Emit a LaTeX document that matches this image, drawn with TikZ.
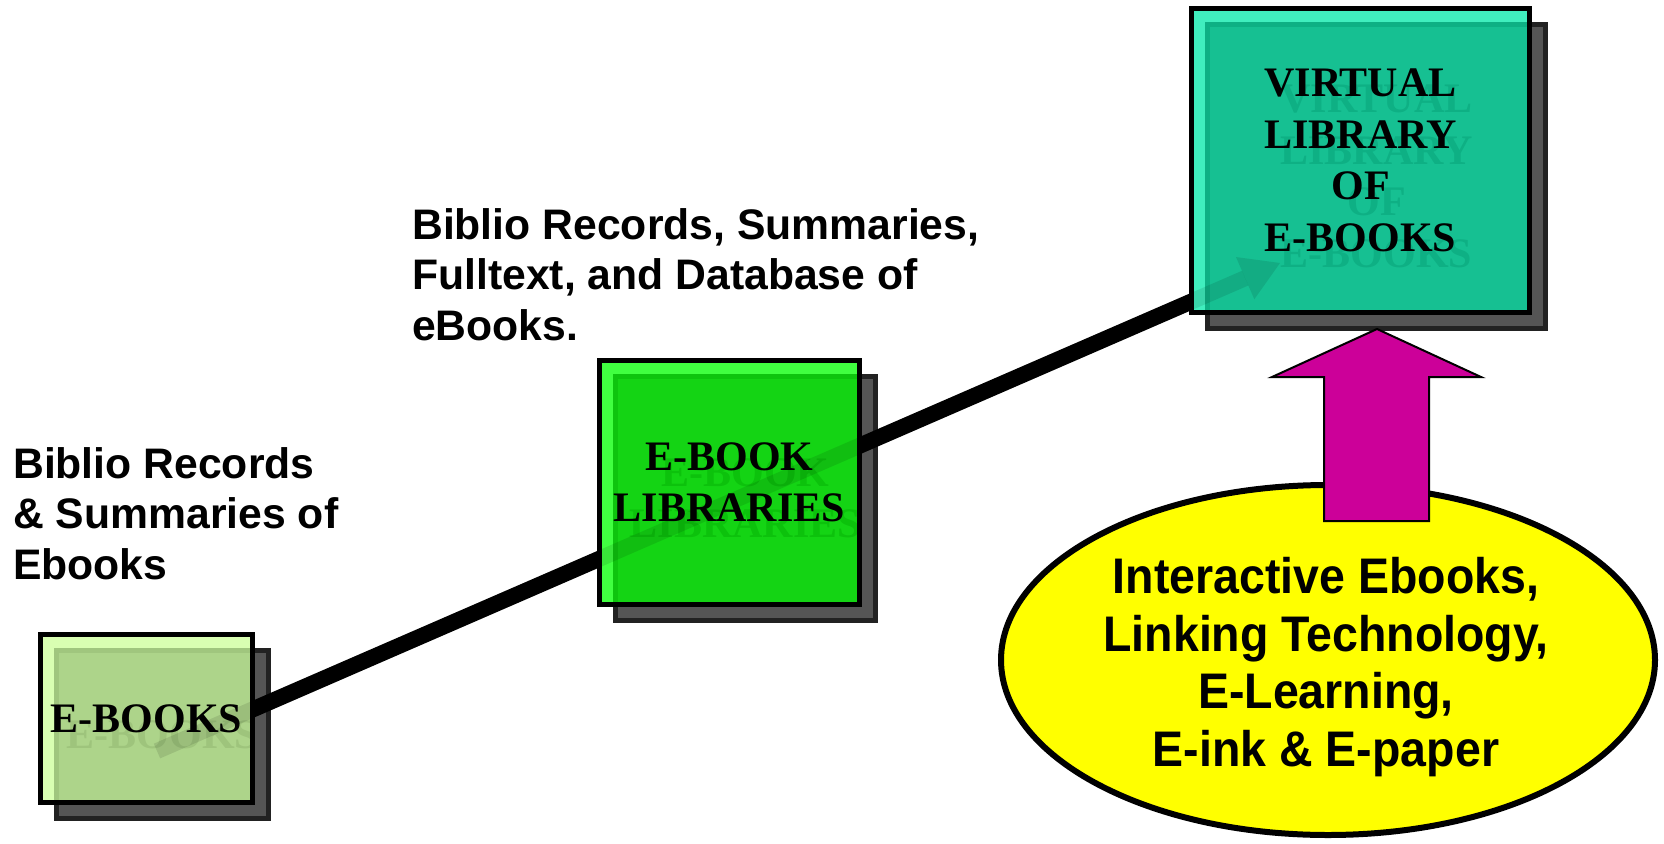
\documentclass[tikz,border=0pt]{standalone}
\usepackage{fontspec}
\setmainfont{Liberation Serif}
\newfontfamily\arialfont{Liberation Sans}
\newfontfamily\narrowfont{Liberation Sans}[FakeStretch=0.93]
\usetikzlibrary{shapes.geometric,arrows.meta}
\definecolor{shfill}{RGB}{85,85,85}
\definecolor{shdraw}{RGB}{34,34,34}
\definecolor{lightA}{RGB}{217,255,178}
\definecolor{overA}{RGB}{173,212,138}
\definecolor{ovbA}{RGB}{160,198,126}
\definecolor{ghostA}{RGB}{158,196,124}
\definecolor{lightB}{RGB}{64,255,64}
\definecolor{overB}{RGB}{20,212,20}
\definecolor{ovbB}{RGB}{14,196,14}
\definecolor{ghostB}{RGB}{12,194,12}
\definecolor{lightC}{RGB}{64,238,190}
\definecolor{overC}{RGB}{22,192,146}
\definecolor{ovbC}{RGB}{14,176,132}
\definecolor{ghostC}{RGB}{14,176,132}
\definecolor{magentaA}{RGB}{204,0,153}
\definecolor{yellowA}{RGB}{255,255,0}
\tikzset{
  shadowsty/.style={rectangle, fill=shfill, draw=shdraw, line width=4.5pt, inner sep=0pt, outer sep=0pt},
  fillsty/.style={rectangle, fill=#1, inner sep=0pt, outer sep=0pt},
  oversty/.style={rectangle, line width=4.5pt, inner sep=0pt, outer sep=0pt},
  boxfont/.style={font=\bfseries\fontsize{42}{51.5}\selectfont, align=center},
  frame/.style={rectangle, draw=black, line width=5pt, inner sep=0pt, outer sep=0pt, boxfont},
  ghost/.style={inner sep=0pt, boxfont, text=#1},
  sidetext/.style={font=\arialfont\bfseries\fontsize{42.7}{50.5}\selectfont, align=left, anchor=north west, inner sep=0pt},
  techtext/.style={font=\narrowfont\bfseries\fontsize{50}{57.7}\selectfont, align=center, inner sep=0pt},
  conn/.style={line width=16pt, -{Triangle[length=38pt,width=46pt,line width=0pt]}}
}
\begin{document}
\begin{tikzpicture}[x=1pt,y=-1pt]
\useasboundingbox (0,0) rectangle (1664,843);
% shadows
\node[shadowsty, minimum width=212pt, minimum height=168pt] (ebooksS) at (162.5,734.5) {};
\node[shadowsty, minimum width=260pt, minimum height=244pt] (libS) at (745.5,498.5) {};
\node[shadowsty, minimum width=338pt, minimum height=304pt] (virtS) at (1376.5,176.5) {};
% connector
\coordinate (lstart) at (157,751);
\coordinate (lend) at (1280,263);
\draw[conn] (lstart) -- (lend);
% front fills
\node[fillsty=lightA, minimum width=212pt, minimum height=168pt] (ebooks) at (146.5,718.5) {};
\node[fillsty=lightB, minimum width=260pt, minimum height=244pt] (lib) at (729.5,482.5) {};
\node[fillsty=lightC, minimum width=338pt, minimum height=304pt] (virt) at (1360.5,160.5) {};
% overlaps and ghost texts
\begin{scope}
  \clip (ebooks.north west) rectangle (ebooks.south east);
  \node[oversty, fill=overA, draw=ovbA, minimum width=212pt, minimum height=168pt] (ebooksO) at (162.5,734.5) {};
  \node[ghost=ghostA] (ebooksG) at (162.5,734.5) {E-BOOKS};
\end{scope}
\begin{scope}
  \clip (lib.north west) rectangle (lib.south east);
  \node[oversty, fill=overB, draw=ovbB, minimum width=260pt, minimum height=244pt] (libO) at (745.5,498.5) {};
  \node[ghost=ghostB] (libG) at (745.5,498.5) {E-BOOK\\LIBRARIES};
\end{scope}
\begin{scope}
  \clip (virt.north west) rectangle (virt.south east);
  \node[oversty, fill=overC, draw=ovbC, minimum width=338pt, minimum height=304pt] (virtO) at (1376.5,176.5) {};
  \node[ghost=ghostC] (virtG) at (1376.5,176.5) {VIRTUAL\\LIBRARY\\OF\\E-BOOKS};
\end{scope}
% connector seen through the boxes
\draw[conn, opacity=0.1] (lstart) -- (lend);
% frames and labels
\node[frame, minimum width=212pt, minimum height=168pt] (ebooksF) at (146.5,718.5) {E-BOOKS};
\node[frame, minimum width=260pt, minimum height=244pt] (libF) at (729.5,482.5) {E-BOOK\\LIBRARIES};
\node[frame, minimum width=338pt, minimum height=304pt] (virtF) at (1360.5,160.5) {VIRTUAL\\LIBRARY\\OF\\E-BOOKS};
% side texts
\node[sidetext] (note1) at (13,447) {Biblio Records\\\& Summaries of\\Ebooks};
\node[sidetext] (note2) at (412,208) {Biblio Records, Summaries,\\Fulltext, and Database of\\eBooks.};
% ellipse
\node[ellipse, draw=black, fill=yellowA, line width=6pt, minimum width=654pt, minimum height=350pt, inner sep=0pt] (tech) at (1328,660) {};
\node[techtext] (techlbl) at (1326,667) {Interactive Ebooks,\\Linking Technology,\\E-Learning,\\E-ink \& E-paper};
% block arrow
\draw[fill=magentaA, draw=black, line width=2pt, line join=miter]
  (1377,329) -- (1481,377) -- (1429,377) -- (1429,521) -- (1324,521) -- (1324,377) -- (1272,377) -- cycle;
\end{tikzpicture}
\end{document}
